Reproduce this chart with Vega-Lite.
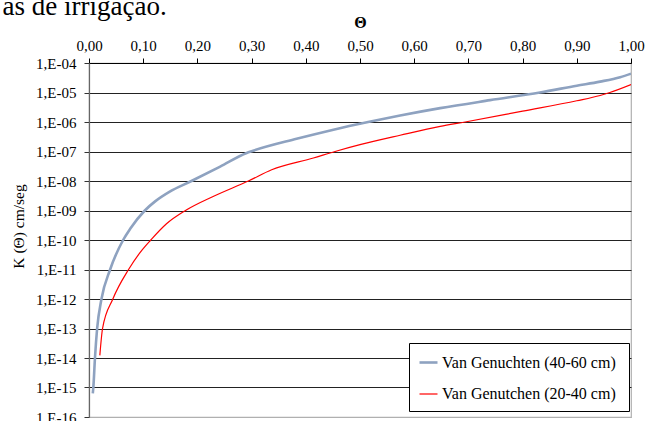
{
  "$schema": "https://vega.github.io/schema/vega-lite/v6.json",
  "width": 542,
  "height": 354,
  "autosize": {"type": "none"},
  "padding": {"left": 89, "top": 63, "right": 15, "bottom": 4},
  "background": "white",
  "title": {
    "text": "as de irrigação.",
    "anchor": "start",
    "frame": "bounds",
    "orient": "top",
    "offset": -7,
    "dx": -9,
    "font": "Liberation Serif",
    "fontSize": 27,
    "fontWeight": "normal",
    "color": "#000000"
  },
  "config": {
    "view": {"stroke": "#b0b0b0", "strokeWidth": 1.2},
    "font": "Liberation Serif"
  },
  "data": {
    "values": [
      {"serie": "Van Genuchten (40-60 cm)", "theta": 0.007, "K": 6.31e-16},
      {"serie": "Van Genuchten (40-60 cm)", "theta": 0.008, "K": 1e-15},
      {"serie": "Van Genuchten (40-60 cm)", "theta": 0.011, "K": 1e-14},
      {"serie": "Van Genuchten (40-60 cm)", "theta": 0.015, "K": 1e-13},
      {"serie": "Van Genuchten (40-60 cm)", "theta": 0.023, "K": 1e-12},
      {"serie": "Van Genuchten (40-60 cm)", "theta": 0.039, "K": 1e-11},
      {"serie": "Van Genuchten (40-60 cm)", "theta": 0.063, "K": 1e-10},
      {"serie": "Van Genuchten (40-60 cm)", "theta": 0.076, "K": 2.4e-10},
      {"serie": "Van Genuchten (40-60 cm)", "theta": 0.103, "K": 1e-9},
      {"serie": "Van Genuchten (40-60 cm)", "theta": 0.122, "K": 2.04e-9},
      {"serie": "Van Genuchten (40-60 cm)", "theta": 0.149, "K": 4.37e-9},
      {"serie": "Van Genuchten (40-60 cm)", "theta": 0.189, "K": 1e-8},
      {"serie": "Van Genuchten (40-60 cm)", "theta": 0.242, "K": 3.09e-8},
      {"serie": "Van Genuchten (40-60 cm)", "theta": 0.291, "K": 8.91e-8},
      {"serie": "Van Genuchten (40-60 cm)", "theta": 0.300, "K": 1.02e-7},
      {"serie": "Van Genuchten (40-60 cm)", "theta": 0.383, "K": 2.69e-7},
      {"serie": "Van Genuchten (40-60 cm)", "theta": 0.451, "K": 5.5e-7},
      {"serie": "Van Genuchten (40-60 cm)", "theta": 0.515, "K": 1e-6},
      {"serie": "Van Genuchten (40-60 cm)", "theta": 0.574, "K": 1.66e-6},
      {"serie": "Van Genuchten (40-60 cm)", "theta": 0.648, "K": 2.95e-6},
      {"serie": "Van Genuchten (40-60 cm)", "theta": 0.74, "K": 5.5e-6},
      {"serie": "Van Genuchten (40-60 cm)", "theta": 0.832, "K": 1e-5},
      {"serie": "Van Genuchten (40-60 cm)", "theta": 0.9, "K": 1.7e-5},
      {"serie": "Van Genuchten (40-60 cm)", "theta": 0.943, "K": 2.34e-5},
      {"serie": "Van Genuchten (40-60 cm)", "theta": 0.98, "K": 3.31e-5},
      {"serie": "Van Genuchten (40-60 cm)", "theta": 1.0, "K": 4.37e-5},
      {"serie": "Van Genutchen  (20-40 cm)", "theta": 0.020, "K": 1.23e-14},
      {"serie": "Van Genutchen  (20-40 cm)", "theta": 0.025, "K": 1e-13},
      {"serie": "Van Genutchen  (20-40 cm)", "theta": 0.044, "K": 1e-12},
      {"serie": "Van Genutchen  (20-40 cm)", "theta": 0.073, "K": 1e-11},
      {"serie": "Van Genutchen  (20-40 cm)", "theta": 0.097, "K": 4.37e-11},
      {"serie": "Van Genutchen  (20-40 cm)", "theta": 0.114, "K": 1e-10},
      {"serie": "Van Genutchen  (20-40 cm)", "theta": 0.143, "K": 3.55e-10},
      {"serie": "Van Genutchen  (20-40 cm)", "theta": 0.178, "K": 1e-9},
      {"serie": "Van Genutchen  (20-40 cm)", "theta": 0.232, "K": 3.16e-9},
      {"serie": "Van Genutchen  (20-40 cm)", "theta": 0.294, "K": 1e-8},
      {"serie": "Van Genutchen  (20-40 cm)", "theta": 0.337, "K": 2.4e-8},
      {"serie": "Van Genutchen  (20-40 cm)", "theta": 0.414, "K": 6.03e-8},
      {"serie": "Van Genutchen  (20-40 cm)", "theta": 0.454, "K": 1e-7},
      {"serie": "Van Genutchen  (20-40 cm)", "theta": 0.5, "K": 1.7e-7},
      {"serie": "Van Genutchen  (20-40 cm)", "theta": 0.574, "K": 3.55e-7},
      {"serie": "Van Genutchen  (20-40 cm)", "theta": 0.648, "K": 7.08e-7},
      {"serie": "Van Genutchen  (20-40 cm)", "theta": 0.694, "K": 1e-6},
      {"serie": "Van Genutchen  (20-40 cm)", "theta": 0.8, "K": 2.34e-6},
      {"serie": "Van Genutchen  (20-40 cm)", "theta": 0.9, "K": 5.25e-6},
      {"serie": "Van Genutchen  (20-40 cm)", "theta": 0.943, "K": 7.94e-6},
      {"serie": "Van Genutchen  (20-40 cm)", "theta": 0.961, "K": 1e-5},
      {"serie": "Van Genutchen  (20-40 cm)", "theta": 1.0, "K": 1.86e-5}
    ]
  },
  "mark": {"type": "line", "interpolate": "monotone", "clip": true},
  "encoding": {
    "x": {
      "field": "theta",
      "type": "quantitative",
      "scale": {"domain": [0, 1], "nice": false, "zero": false},
      "axis": {
        "orient": "top",
        "title": "Θ",
        "titleFont": "Liberation Serif",
        "titleFontSize": 16,
        "titleFontWeight": "bold",
        "titlePadding": 8,
        "values": [0, 0.1, 0.2, 0.3, 0.4, 0.5, 0.6, 0.7, 0.8, 0.9, 1.0],
        "labelExpr": "replace(format(datum.value, '.2f'), '.', ',')",
        "labelFont": "Liberation Serif",
        "labelFontSize": 15,
        "labelColor": "#000000",
        "labelPadding": 5,
        "labelFlush": false,
        "labelOverlap": false,
        "tickSize": 5,
        "tickColor": "#000000",
        "domainColor": "#000000",
        "domainWidth": 1.2,
        "grid": false
      }
    },
    "y": {
      "field": "K",
      "type": "quantitative",
      "scale": {"type": "log", "domain": [1e-16, 1e-4], "nice": false},
      "axis": {
        "title": "K (Θ) cm/seg",
        "titleFont": "Liberation Serif",
        "titleFontSize": 15.5,
        "titleFontWeight": "normal",
        "titlePadding": 9,
        "titleY": 163,
        "values": [1e-16, 1e-15, 1e-14, 1e-13, 1e-12, 1e-11, 1e-10, 1e-9, 1e-8, 1e-7, 1e-6, 1e-5, 1e-4],
        "labelExpr": "'1,E-' + (round(-log(datum.value)/LN10) < 10 ? '0' : '') + round(-log(datum.value)/LN10)",
        "labelFont": "Liberation Serif",
        "labelFontSize": 15,
        "labelColor": "#000000",
        "labelPadding": 8,
        "labelOverlap": false,
        "labelFlush": false,
        "tickSize": 5,
        "tickColor": "#333333",
        "domainColor": "#666666",
        "domainWidth": 1.2,
        "grid": true,
        "gridColor": {"condition": {"test": "datum.value < 1e-15", "value": "#b0b0b0"}, "value": "#222222"},
        "gridWidth": 1.1
      }
    },
    "color": {
      "field": "serie",
      "type": "nominal",
      "scale": {
        "domain": ["Van Genuchten (40-60 cm)", "Van Genutchen  (20-40 cm)"],
        "range": ["#8EA2C0", "#FF0000"]
      },
      "legend": {
        "title": null,
        "orient": "none",
        "legendX": 320,
        "legendY": 280,
        "direction": "vertical",
        "fillColor": "white",
        "strokeColor": "#000000",
        "padding": 9,
        "symbolType": "stroke",
        "symbolSize": 324,
        "symbolStrokeWidth": 1.5,
        "labelFont": "Liberation Serif",
        "labelFontSize": 16,
        "labelColor": "#000000",
        "labelOffset": 3,
        "labelLimit": 300,
        "rowPadding": 13
      }
    },
    "strokeWidth": {
      "field": "serie",
      "type": "nominal",
      "scale": {
        "domain": ["Van Genuchten (40-60 cm)", "Van Genutchen  (20-40 cm)"],
        "range": [2.6, 1.2]
      },
      "legend": null
    }
  }
}
